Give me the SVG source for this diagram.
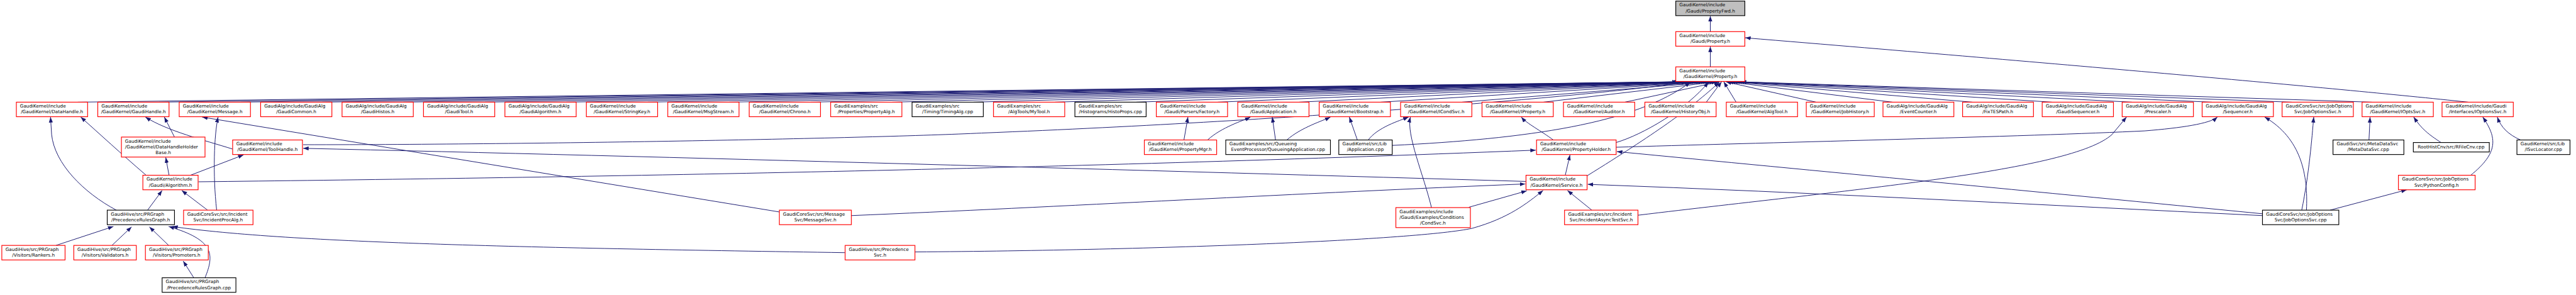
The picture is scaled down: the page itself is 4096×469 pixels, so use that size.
<svg xmlns="http://www.w3.org/2000/svg" width="4096" height="469" viewBox="0 0 4096 469">
<style>
.n rect{fill:#fff;stroke-width:2}
.r rect{stroke:#ff0000}
.b rect{stroke:#000}
.g rect{fill:#bfbfbf;stroke:#000}
text{font-family:"DejaVu Sans",sans-serif;font-size:12.6px;fill:#000}
.m{text-anchor:middle}
.e path{fill:none;stroke:#191970;stroke-width:1.7}
</style>
<defs>
<marker id="a" markerUnits="userSpaceOnUse" markerWidth="16" markerHeight="12" refX="15" refY="6" orient="auto"><path d="M0,0.5 L15,6 L0,11.5 Z" fill="#191970"/></marker>
</defs>
<rect width="4096" height="469" fill="#fff"/>
<g transform="scale(0.578)">
<g id="edges" class="e">
<path marker-end="url(#a)" d="M4705,87 L4705,44"/>
<path marker-end="url(#a)" d="M4705,184 L4705,128"/>
<path marker-end="url(#a)" d="M6790,281 C6400,240 5700,178 4801,104"/>
<path marker-end="url(#a)" d="M214,281 L4615,225"/>
<path marker-end="url(#a)" d="M438,281 L4621,225"/>
<path marker-end="url(#a)" d="M662,281 L4627,225"/>
<path marker-end="url(#a)" d="M886,281 L4633,225"/>
<path marker-end="url(#a)" d="M1110,281 L4639,225"/>
<path marker-end="url(#a)" d="M1334,281 L4645,225"/>
<path marker-end="url(#a)" d="M1558,281 L4651,225"/>
<path marker-end="url(#a)" d="M1782,281 L4657,225"/>
<path marker-end="url(#a)" d="M2006,281 L4663,225"/>
<path marker-end="url(#a)" d="M2230,281 L4669,225"/>
<path marker-end="url(#a)" d="M2454,281 L4675,225"/>
<path marker-end="url(#a)" d="M2678,281 L4681,225"/>
<path marker-end="url(#a)" d="M2902,281 L4688,225"/>
<path marker-end="url(#a)" d="M3126,281 L4694,225"/>
<path marker-end="url(#a)" d="M3350,281 L4700,225"/>
<path marker-end="url(#a)" d="M3574,281 L4706,225"/>
<path marker-end="url(#a)" d="M3798,281 L4712,225"/>
<path marker-end="url(#a)" d="M4022,281 L4718,225"/>
<path marker-end="url(#a)" d="M4246,281 L4724,225"/>
<path marker-end="url(#a)" d="M4470,281 L4730,225"/>
<path marker-end="url(#a)" d="M4694,281 L4736,225"/>
<path marker-end="url(#a)" d="M4776,281 L4742,225"/>
<path marker-end="url(#a)" d="M4996,281 L4748,225"/>
<path marker-end="url(#a)" d="M5206,281 L4753,225"/>
<path marker-end="url(#a)" d="M5426,281 L4759,225"/>
<path marker-end="url(#a)" d="M5645,281 L4765,225"/>
<path marker-end="url(#a)" d="M5865,281 L4771,225"/>
<path marker-end="url(#a)" d="M6085,281 L4777,225"/>
<path marker-end="url(#a)" d="M6305,281 L4783,225"/>
<path marker-end="url(#a)" d="M6525,281 L4789,225"/>
<path marker-end="url(#a)" d="M480,377 L452,322"/>
<path marker-end="url(#a)" d="M640,410 C560,385 460,360 400,322"/>
<path marker-end="url(#a)" d="M2144,583 L556,322"/>
<path marker-end="url(#a)" d="M596,578 C585,480 589,370 600,322"/>
<path marker-end="url(#a)" d="M402,482 C330,420 276,370 222,322"/>
<path marker-end="url(#a)" d="M320,578 C230,530 150,450 142,370 L139,322"/>
<path marker-end="url(#a)" d="M3257,385 L3268,322"/>
<path marker-end="url(#a)" d="M3322,385 C3360,350 3420,332 3440,322"/>
<path marker-end="url(#a)" d="M3509,385 L3500,322"/>
<path marker-end="url(#a)" d="M3540,385 C3580,350 3640,332 3660,322"/>
<path marker-end="url(#a)" d="M3734,385 L3712,322"/>
<path marker-end="url(#a)" d="M3764,385 C3790,350 3850,332 3875,322"/>
<path marker-end="url(#a)" d="M3830,400 C4200,382 4500,340 4650,226"/>
<path marker-end="url(#a)" d="M3938,571 C3916,480 3868,370 3880,322"/>
<path marker-end="url(#a)" d="M4273,385 C4240,360 4200,340 4185,322"/>
<path marker-end="url(#a)" d="M4446,392 C4520,370 4640,300 4700,226"/>
<path marker-end="url(#a)" d="M4367,483 C4549,370 4650,300 4730,226"/>
<path marker-end="url(#a)" d="M834,398 C1500,398 2400,380 2700,366 C3600,330 4400,262 4640,226"/>
<path marker-end="url(#a)" d="M4506,592 C5100,520 5700,470 5810,370 L5850,322"/>
<path marker-end="url(#a)" d="M4446,405 C4800,394 5600,375 5900,360 C6000,352 6080,340 6100,322"/>
<path marker-end="url(#a)" d="M6332,578 C6352,480 6360,380 6365,322"/>
<path marker-end="url(#a)" d="M6345,578 C6350,480 6330,380 6230,322"/>
<path marker-end="url(#a)" d="M6517,385 L6520,322"/>
<path marker-end="url(#a)" d="M6715,392 C6690,375 6665,360 6640,322"/>
<path marker-end="url(#a)" d="M6934,385 C6900,370 6880,350 6870,322"/>
<path marker-end="url(#a)" d="M6797,482 C6873,420 6870,380 6830,322"/>
<path marker-end="url(#a)" d="M465,482 L456,433"/>
<path marker-end="url(#a)" d="M524,482 L670,426"/>
<path marker-end="url(#a)" d="M546,500 C1400,490 2800,470 4225,413"/>
<path marker-end="url(#a)" d="M4306,482 L4319,426"/>
<path marker-end="url(#a)" d="M4197,499 C3200,470 1800,430 834,408"/>
<path marker-end="url(#a)" d="M2342,593 C2900,570 3600,530 4196,506"/>
<path marker-end="url(#a)" d="M6224,588 C5600,527 5000,470 4448,417"/>
<path marker-end="url(#a)" d="M6224,593 C5600,563 5000,530 4368,507"/>
<path marker-end="url(#a)" d="M6410,578 L6621,522"/>
<path marker-end="url(#a)" d="M4379,578 L4312,524"/>
<path marker-end="url(#a)" d="M4041,570 L4200,525"/>
<path marker-end="url(#a)" d="M2517,693 C3200,688 3900,660 4050,628 C4150,600 4200,560 4245,524"/>
<path marker-end="url(#a)" d="M2325,695 C1500,682 800,670 474,623"/>
<path marker-end="url(#a)" d="M406,578 L446,524"/>
<path marker-end="url(#a)" d="M571,578 L500,524"/>
<path marker-end="url(#a)" d="M154,675 L312,623"/>
<path marker-end="url(#a)" d="M308,675 L362,624"/>
<path marker-end="url(#a)" d="M464,675 L411,624"/>
<path marker-end="url(#a)" d="M533,764 L504,718"/>
<path marker-end="url(#a)" d="M564,764 C590,700 590,660 464,623"/>
</g>
<g id="t0" class="n g"><rect x="4610" y="3" width="190" height="40"/><text><tspan x="4620" y="18">GaudiKernel/include</tspan><tspan class="m" x="4705" y="34">/Gaudi/PropertyFwd.h</tspan></text></g>
<g id="s0" class="n r"><rect x="4610" y="87" width="190" height="40"/><text><tspan x="4620" y="102">GaudiKernel/include</tspan><tspan class="m" x="4705" y="118">/Gaudi/Property.h</tspan></text></g>
<g id="h0" class="n r"><rect x="4610" y="184" width="190" height="40"/><text><tspan x="4620" y="199">GaudiKernel/include</tspan><tspan class="m" x="4705" y="215">/GaudiKernel/Property.h</tspan></text></g>
<g id="k0" class="n r"><rect x="45" y="281" width="196" height="40"/><text><tspan x="55" y="296">GaudiKernel/include</tspan><tspan class="m" x="143" y="312">/GaudiKernel/DataHandle.h</tspan></text></g>
<g id="k1" class="n r"><rect x="269" y="281" width="196" height="40"/><text><tspan x="279" y="296">GaudiKernel/include</tspan><tspan class="m" x="367" y="312">/GaudiKernel/GaudiHandle.h</tspan></text></g>
<g id="k2" class="n r"><rect x="493" y="281" width="196" height="40"/><text><tspan x="503" y="296">GaudiKernel/include</tspan><tspan class="m" x="591" y="312">/GaudiKernel/Message.h</tspan></text></g>
<g id="k3" class="n r"><rect x="717" y="281" width="196" height="40"/><text><tspan x="727" y="296">GaudiAlg/include/GaudiAlg</tspan><tspan class="m" x="815" y="312">/GaudiCommon.h</tspan></text></g>
<g id="k4" class="n r"><rect x="941" y="281" width="196" height="40"/><text><tspan x="951" y="296">GaudiAlg/include/GaudiAlg</tspan><tspan class="m" x="1039" y="312">/GaudiHistos.h</tspan></text></g>
<g id="k5" class="n r"><rect x="1165" y="281" width="196" height="40"/><text><tspan x="1175" y="296">GaudiAlg/include/GaudiAlg</tspan><tspan class="m" x="1263" y="312">/GaudiTool.h</tspan></text></g>
<g id="k6" class="n r"><rect x="1389" y="281" width="196" height="40"/><text><tspan x="1399" y="296">GaudiAlg/include/GaudiAlg</tspan><tspan class="m" x="1487" y="312">/GaudiAlgorithm.h</tspan></text></g>
<g id="k7" class="n r"><rect x="1613" y="281" width="196" height="40"/><text><tspan x="1623" y="296">GaudiKernel/include</tspan><tspan class="m" x="1711" y="312">/GaudiKernel/StringKey.h</tspan></text></g>
<g id="k8" class="n r"><rect x="1837" y="281" width="196" height="40"/><text><tspan x="1847" y="296">GaudiKernel/include</tspan><tspan class="m" x="1935" y="312">/GaudiKernel/MsgStream.h</tspan></text></g>
<g id="k9" class="n r"><rect x="2061" y="281" width="196" height="40"/><text><tspan x="2071" y="296">GaudiKernel/include</tspan><tspan class="m" x="2159" y="312">/GaudiKernel/Chrono.h</tspan></text></g>
<g id="k10" class="n r"><rect x="2285" y="281" width="196" height="40"/><text><tspan x="2295" y="296">GaudiExamples/src</tspan><tspan class="m" x="2383" y="312">/Properties/PropertyAlg.h</tspan></text></g>
<g id="k11" class="n b"><rect x="2509" y="281" width="196" height="40"/><text><tspan x="2519" y="296">GaudiExamples/src</tspan><tspan class="m" x="2607" y="312">/Timing/TimingAlg.cpp</tspan></text></g>
<g id="k12" class="n r"><rect x="2733" y="281" width="196" height="40"/><text><tspan x="2743" y="296">GaudiExamples/src</tspan><tspan class="m" x="2831" y="312">/AlgTools/MyTool.h</tspan></text></g>
<g id="k13" class="n b"><rect x="2957" y="281" width="196" height="40"/><text><tspan x="2967" y="296">GaudiExamples/src</tspan><tspan class="m" x="3055" y="312">/Histograms/HistoProps.cpp</tspan></text></g>
<g id="k14" class="n r"><rect x="3181" y="281" width="196" height="40"/><text><tspan x="3191" y="296">GaudiKernel/include</tspan><tspan class="m" x="3279" y="312">/Gaudi/Parsers/Factory.h</tspan></text></g>
<g id="k15" class="n r"><rect x="3405" y="281" width="196" height="40"/><text><tspan x="3415" y="296">GaudiKernel/include</tspan><tspan class="m" x="3503" y="312">/Gaudi/Application.h</tspan></text></g>
<g id="k16" class="n r"><rect x="3629" y="281" width="196" height="40"/><text><tspan x="3639" y="296">GaudiKernel/include</tspan><tspan class="m" x="3727" y="312">/GaudiKernel/Bootstrap.h</tspan></text></g>
<g id="k17" class="n r"><rect x="3853" y="281" width="196" height="40"/><text><tspan x="3863" y="296">GaudiKernel/include</tspan><tspan class="m" x="3951" y="312">/GaudiKernel/ICondSvc.h</tspan></text></g>
<g id="k18" class="n r"><rect x="4077" y="281" width="196" height="40"/><text><tspan x="4087" y="296">GaudiKernel/include</tspan><tspan class="m" x="4175" y="312">/GaudiKernel/IProperty.h</tspan></text></g>
<g id="k19" class="n r"><rect x="4301" y="281" width="196" height="40"/><text><tspan x="4311" y="296">GaudiKernel/include</tspan><tspan class="m" x="4399" y="312">/GaudiKernel/Auditor.h</tspan></text></g>
<g id="k20" class="n r"><rect x="4525" y="281" width="196" height="40"/><text><tspan x="4535" y="296">GaudiKernel/include</tspan><tspan class="m" x="4623" y="312">/GaudiKernel/HistoryObj.h</tspan></text></g>
<g id="k21" class="n r"><rect x="4749" y="281" width="196" height="40"/><text><tspan x="4759" y="296">GaudiKernel/include</tspan><tspan class="m" x="4847" y="312">/GaudiKernel/AlgTool.h</tspan></text></g>
<g id="n24" class="n r"><rect x="4969" y="281" width="187" height="40"/><text><tspan x="4979" y="296">GaudiKernel/include</tspan><tspan class="m" x="5062" y="312">/GaudiKernel/JobHistory.h</tspan></text></g>
<g id="n25" class="n r"><rect x="5180" y="281" width="195" height="40"/><text><tspan x="5190" y="296">GaudiAlg/include/GaudiAlg</tspan><tspan class="m" x="5277" y="312">/EventCounter.h</tspan></text></g>
<g id="n26" class="n r"><rect x="5399" y="281" width="195" height="40"/><text><tspan x="5409" y="296">GaudiAlg/include/GaudiAlg</tspan><tspan class="m" x="5496" y="312">/FixTESPath.h</tspan></text></g>
<g id="k25" class="n r"><rect x="5618" y="281" width="196" height="40"/><text><tspan x="5628" y="296">GaudiAlg/include/GaudiAlg</tspan><tspan class="m" x="5716" y="312">/GaudiSequencer.h</tspan></text></g>
<g id="k26" class="n r"><rect x="5838" y="281" width="196" height="40"/><text><tspan x="5848" y="296">GaudiAlg/include/GaudiAlg</tspan><tspan class="m" x="5936" y="312">/Prescaler.h</tspan></text></g>
<g id="k27" class="n r"><rect x="6058" y="281" width="196" height="40"/><text><tspan x="6068" y="296">GaudiAlg/include/GaudiAlg</tspan><tspan class="m" x="6156" y="312">/Sequencer.h</tspan></text></g>
<g id="k28" class="n r"><rect x="6278" y="281" width="196" height="40"/><text><tspan x="6288" y="296">GaudiCoreSvc/src/JobOptions</tspan><tspan class="m" x="6376" y="312">Svc/JobOptionsSvc.h</tspan></text></g>
<g id="k29" class="n r"><rect x="6498" y="281" width="196" height="40"/><text><tspan x="6508" y="296">GaudiKernel/include</tspan><tspan class="m" x="6596" y="312">/GaudiKernel/IOptsSvc.h</tspan></text></g>
<g id="k30" class="n r"><rect x="6718" y="281" width="196" height="40"/><text><tspan x="6728" y="296">GaudiKernel/include/Gaudi</tspan><tspan class="m" x="6816" y="312">/Interfaces/IOptionsSvc.h</tspan></text></g>
<g id="n1" class="n r"><rect x="334" y="377" width="230" height="55"/><text><tspan x="344" y="392">GaudiKernel/include</tspan><tspan x="344" y="408">/GaudiKernel/DataHandleHolder</tspan><tspan class="m" x="449" y="424">Base.h</tspan></text></g>
<g id="n2" class="n r"><rect x="640" y="385" width="192" height="40"/><text><tspan x="650" y="400">GaudiKernel/include</tspan><tspan class="m" x="736" y="416">/GaudiKernel/ToolHandle.h</tspan></text></g>
<g id="n3" class="n r"><rect x="393" y="482" width="152" height="40"/><text><tspan x="403" y="497">GaudiKernel/include</tspan><tspan class="m" x="469" y="513">/Gaudi/Algorithm.h</tspan></text></g>
<g id="n4" class="n b"><rect x="295" y="578" width="185" height="40"/><text><tspan x="305" y="593">GaudiHive/src/PRGraph</tspan><tspan class="m" x="387" y="609">/PrecedenceRulesGraph.h</tspan></text></g>
<g id="n5" class="n r"><rect x="505" y="578" width="191" height="40"/><text><tspan x="515" y="593">GaudiCoreSvc/src/Incident</tspan><tspan class="m" x="600" y="609">Svc/IncidentProcAlg.h</tspan></text></g>
<g id="n6" class="n r"><rect x="5" y="675" width="174" height="40"/><text><tspan x="15" y="690">GaudiHive/src/PRGraph</tspan><tspan class="m" x="92" y="706">/Visitors/Rankers.h</tspan></text></g>
<g id="n7" class="n r"><rect x="203" y="675" width="172" height="40"/><text><tspan x="213" y="690">GaudiHive/src/PRGraph</tspan><tspan class="m" x="289" y="706">/Visitors/Validators.h</tspan></text></g>
<g id="n8" class="n r"><rect x="400" y="675" width="173" height="40"/><text><tspan x="410" y="690">GaudiHive/src/PRGraph</tspan><tspan class="m" x="486" y="706">/Visitors/Promoters.h</tspan></text></g>
<g id="n9" class="n b"><rect x="446" y="764" width="203" height="40"/><text><tspan x="456" y="779">GaudiHive/src/PRGraph</tspan><tspan class="m" x="547" y="795">/PrecedenceRulesGraph.cpp</tspan></text></g>
<g id="n10" class="n r"><rect x="2144" y="578" width="198" height="40"/><text><tspan x="2154" y="593">GaudiCoreSvc/src/Message</tspan><tspan class="m" x="2243" y="609">Svc/MessageSvc.h</tspan></text></g>
<g id="n11" class="n r"><rect x="2325" y="675" width="192" height="40"/><text><tspan x="2335" y="690">GaudiHive/src/Precedence</tspan><tspan class="m" x="2421" y="706">Svc.h</tspan></text></g>
<g id="n12" class="n r"><rect x="3148" y="385" width="199" height="40"/><text><tspan x="3158" y="400">GaudiKernel/include</tspan><tspan class="m" x="3247" y="416">/GaudiKernel/PropertyMgr.h</tspan></text></g>
<g id="n13" class="n b"><rect x="3372" y="385" width="288" height="40"/><text><tspan x="3382" y="400">GaudiExamples/src/Queueing</tspan><tspan class="m" x="3516" y="416">EventProcessor/QueueingApplication.cpp</tspan></text></g>
<g id="n14" class="n b"><rect x="3683" y="385" width="147" height="40"/><text><tspan x="3693" y="400">GaudiKernel/src/Lib</tspan><tspan class="m" x="3756" y="416">/Application.cpp</tspan></text></g>
<g id="n15" class="n r"><rect x="4227" y="385" width="219" height="40"/><text><tspan x="4237" y="400">GaudiKernel/include</tspan><tspan class="m" x="4336" y="416">/GaudiKernel/PropertyHolder.h</tspan></text></g>
<g id="n16" class="n r"><rect x="4198" y="482" width="168" height="40"/><text><tspan x="4208" y="497">GaudiKernel/include</tspan><tspan class="m" x="4282" y="513">/GaudiKernel/Service.h</tspan></text></g>
<g id="n17" class="n r"><rect x="3840" y="571" width="205" height="55"/><text><tspan x="3850" y="586">GaudiExamples/include</tspan><tspan x="3850" y="602">/Gaudi/Examples/Conditions</tspan><tspan class="m" x="3942" y="618">/CondSvc.h</tspan></text></g>
<g id="n18" class="n r"><rect x="4304" y="578" width="202" height="40"/><text><tspan x="4314" y="593">GaudiExamples/src/Incident</tspan><tspan class="m" x="4405" y="609">Svc/IncidentAsyncTestSvc.h</tspan></text></g>
<g id="n19" class="n b"><rect x="6418" y="385" width="195" height="40"/><text><tspan x="6428" y="400">GaudiSvc/src/MetaDataSvc</tspan><tspan class="m" x="6515" y="416">/MetaDataSvc.cpp</tspan></text></g>
<g id="n20" class="n b"><rect x="6639" y="392" width="209" height="26"/><text><tspan class="m" x="6743" y="409">RootHistCnv/src/RFileCnv.cpp</tspan></text></g>
<g id="n21" class="n b"><rect x="6924" y="385" width="146" height="40"/><text><tspan x="6934" y="400">GaudiKernel/src/Lib</tspan><tspan class="m" x="6997" y="416">/ISvcLocator.cpp</tspan></text></g>
<g id="n22" class="n r"><rect x="6598" y="482" width="211" height="40"/><text><tspan x="6608" y="497">GaudiCoreSvc/src/JobOptions</tspan><tspan class="m" x="6703" y="513">Svc/PythonConfig.h</tspan></text></g>
<g id="n23" class="n b"><rect x="6224" y="578" width="210" height="40"/><text><tspan x="6234" y="593">GaudiCoreSvc/src/JobOptions</tspan><tspan class="m" x="6329" y="609">Svc/JobOptionsSvc.cpp</tspan></text></g>
</g>
</svg>
